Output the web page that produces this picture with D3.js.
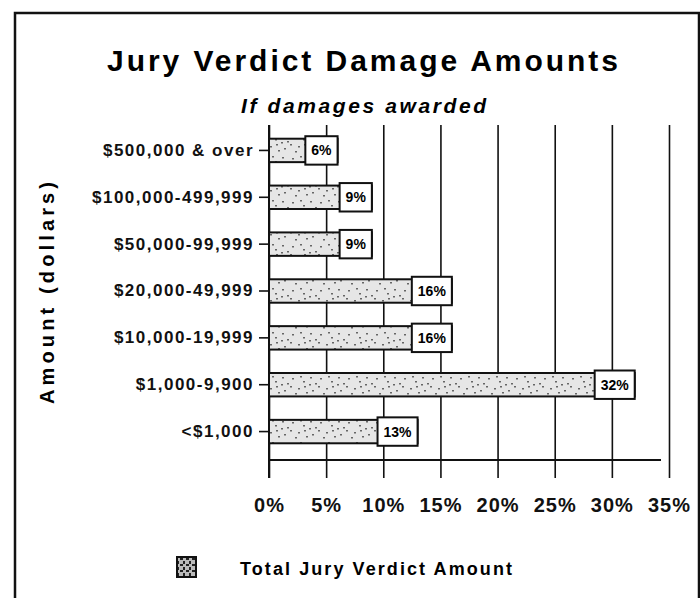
<!DOCTYPE html>
<html>
<head>
<meta charset="utf-8">
<script src="https://cdn.jsdelivr.net/npm/d3@7"></script>
<style>
  body { margin: 0; background: #fff; }
  svg { display: block; font-family: "Liberation Sans", Arial, sans-serif; }
  .title { font-weight: bold; font-size: 30px; }
  .subtitle { font-weight: bold; font-style: italic; font-size: 21px; }
  .label { font-weight: bold; font-size: 20px; }
  .y.axis text { font-weight: bold; font-size: 17px; letter-spacing: 1.5px; }
  .x.axis text { font-weight: bold; font-size: 20px; letter-spacing: 1px; }
  .valText { font-weight: bold; font-size: 14px; }
  .legendText { font-weight: bold; font-size: 18px; }
</style>
</head>
<body>
<svg width="700" height="598"></svg>
<script>
// **** data ****
var categories = ['$500,000 & over', '$100,000-499,999', '$50,000-99,999',
    '$20,000-49,999', '$10,000-19,999', '$1,000-9,900', '<$1,000'];
var shares = [6, 9, 9, 16, 16, 32, 13];
var xTicks = [0, 5, 10, 15, 20, 25, 30, 35];
var seriesName = 'Total Jury Verdict Amount';

var svg = d3.select('svg');

// frame round the whole figure
svg.append('rect')
    .attr('x', 15).attr('y', 13)
    .attr('width', 684).attr('height', 620)
    .attr('fill', 'none')
    .attr('stroke', '#111')
    .attr('stroke-width', 2.5);

// speckled fill like the scanned bars
var defs = svg.append('defs');
var pat = defs.append('pattern')
    .attr('id', 'speckle')
    .attr('patternUnits', 'userSpaceOnUse')
    .attr('width', 28).attr('height', 22);
pat.append('rect').attr('width', 28).attr('height', 22).attr('fill', '#e6e6e6');
var specks = [[2,3],[7,9],[12,4],[18,14],[23,7],[4,16],[15,19],[26,18],[10,12],[20,2],[1,10],[24,12]];
pat.selectAll('rect.s').data(specks).enter().append('rect')
    .attr('class', 's')
    .attr('x', d => d[0]).attr('y', d => d[1])
    .attr('width', 2).attr('height', 1.5)
    .attr('fill', '#666');

var dense = defs.append('pattern')
    .attr('id', 'dense')
    .attr('patternUnits', 'userSpaceOnUse')
    .attr('width', 6).attr('height', 6);
dense.append('rect').attr('width', 6).attr('height', 6).attr('fill', '#bbb');
dense.append('rect').attr('x', 0).attr('y', 0).attr('width', 3).attr('height', 2).attr('fill', '#222');
dense.append('rect').attr('x', 3).attr('y', 3).attr('width', 2).attr('height', 3).attr('fill', '#222');

// titles
svg.append('text')
    .attr('class', 'title')
    .attr('x', 107).attr('y', 71)
    .attr('textLength', 511)
    .attr('lengthAdjust', 'spacing')
    .text('Jury Verdict Damage Amounts');

svg.append('text')
    .attr('class', 'subtitle')
    .attr('x', 241).attr('y', 113)
    .attr('textLength', 245)
    .attr('lengthAdjust', 'spacing')
    .text('If damages awarded');

// scales
var plot = { l: 269, r: 669, t: 125, axisY: 460, b: 478 };

var xScale = d3.scaleLinear().domain([0, 35]).range([plot.l, plot.r]);
var yScale = d3.scaleBand().domain(categories).range([127, 455]).paddingInner(0.5).paddingOuter(0.25);

// vertical gridlines which also run below the axis as ticks
var xAxis = svg.append('g').attr('class', 'x axis')
    .attr('transform', `translate(0, ${plot.b})`)
    .call(d3.axisBottom(xScale).tickValues(xTicks)
        .tickSize(-(plot.b - plot.t)).tickSizeOuter(0)
        .tickFormat(d => d + '%'));
xAxis.select('.domain').remove();
xAxis.selectAll('line').attr('stroke', '#111').attr('stroke-width', 1.6);
xAxis.selectAll('text').attr('y', 34).attr('dy', 0).attr('fill', '#111');

// horizontal axis line
svg.append('line')
    .attr('x1', plot.l).attr('x2', 661)
    .attr('y1', plot.axisY).attr('y2', plot.axisY)
    .attr('stroke', '#111').attr('stroke-width', 2);

// bars
var rows = svg.selectAll('.row')
    .data(categories.map((c, i) => ({ cat: c, value: shares[i] })))
    .enter().append('g')
    .attr('class', 'row');

var barH = yScale.bandwidth();
rows.append('rect')
    .attr('x', xScale(0))
    .attr('y', d => yScale(d.cat))
    .attr('width', d => xScale(d.value) - xScale(0))
    .attr('height', barH)
    .attr('fill', 'url(#speckle)')
    .attr('stroke', '#111')
    .attr('stroke-width', 2);

// value boxes sit at the end of each bar
rows.each(function(d) {
    var g = d3.select(this);
    var boxRect = g.append('rect');
    var t = g.append('text')
        .attr('class', 'valText')
        .attr('text-anchor', 'middle')
        .text(d.value + '%');
    var w = t.node().getComputedTextLength() + 12;
    var h = barH + 5;
    var x1 = xScale(d.value);
    var cy = yScale(d.cat) + barH / 2;
    boxRect.attr('x', x1 - w).attr('y', cy - h / 2)
        .attr('width', w).attr('height', h)
        .attr('fill', '#fff')
        .attr('stroke', '#111')
        .attr('stroke-width', 2);
    t.attr('x', x1 - w / 2).attr('y', cy + 5);
});

// category axis
var yAxis = svg.append('g').attr('class', 'y axis')
    .attr('transform', `translate(${plot.l}, 0)`)
    .call(d3.axisLeft(yScale).tickSize(10).tickPadding(5).tickSizeOuter(0));
yAxis.select('.domain').attr('d', `M0,${plot.t}V${plot.b}`).attr('stroke', '#111').attr('stroke-width', 2);
yAxis.selectAll('line').attr('stroke', '#111').attr('stroke-width', 1.6);
yAxis.selectAll('text').attr('fill', '#111');

svg.append('text')
    .attr('class', 'label')
    .attr('text-anchor', 'middle')
    .attr('transform', 'translate(54, 293) rotate(-90)')
    .attr('textLength', 222)
    .attr('lengthAdjust', 'spacing')
    .text('Amount (dollars)');

// legend
svg.append('rect')
    .attr('x', 177).attr('y', 557)
    .attr('width', 19).attr('height', 20)
    .attr('fill', 'url(#dense)')
    .attr('stroke', '#111')
    .attr('stroke-width', 2);

svg.append('text')
    .attr('class', 'legendText')
    .attr('x', 240).attr('y', 575)
    .attr('textLength', 272)
    .attr('lengthAdjust', 'spacing')
    .text(seriesName);
</script>
</body>
</html>
